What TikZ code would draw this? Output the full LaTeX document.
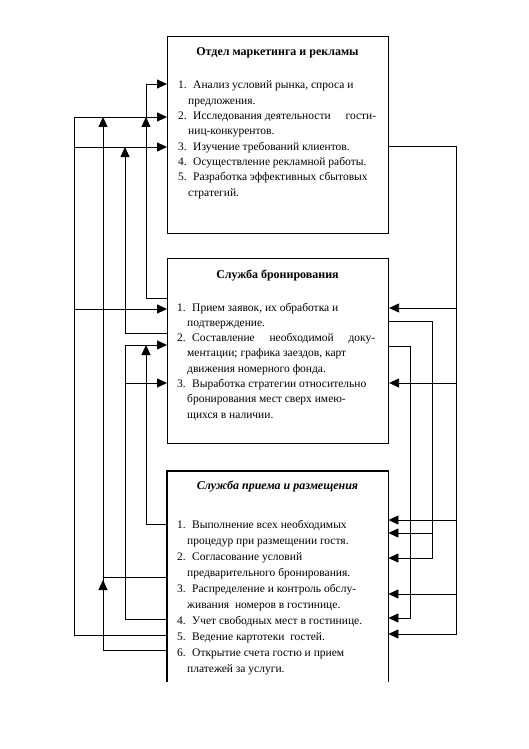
\documentclass[tikz,border=0pt]{standalone}
\usepackage{fontspec}
\setmainfont{Liberation Serif}
\usetikzlibrary{arrows.meta}
\newcommand\itm[2]{\makebox[15pt][l]{#1}#2}
\newcommand\cnt[1]{\hspace*{10pt}#1}
\begin{document}
\begin{tikzpicture}[x=1pt,y=-1pt,
  box/.style={draw, line width=1.1pt, inner sep=0pt, anchor=north west},
  ln/.style={line width=0.8pt},
  arr/.style={ln, -{Triangle[length=10pt,width=9pt]}},
  txt/.style={anchor=base west, inner sep=0pt},
  ttl/.style={anchor=base, inner sep=0pt, font=\fontsize{12}{14}\selectfont\bfseries}]
\useasboundingbox[fill=white] (0,0) rectangle (528,749);

% boxes
\node[box, minimum width=221pt, minimum height=197pt] (b1) at (167,36) {};
\node[box, minimum width=221pt, minimum height=185pt] (b2) at (167,258) {};
\node[inner sep=0pt, anchor=north west, minimum width=221pt, minimum height=211pt] (b3) at (167,471) {};
\draw[line width=1.1pt] (b3.south west) -- (b3.north west) -- (b3.north east) -- (b3.south east);

% titles
\node[ttl] (t1) at (277.5,56) {Отдел маркетинга и рекламы};
\node[ttl] (t2) at (277.5,278) {Служба бронирования};
\node[ttl, font=\fontsize{12}{14}\selectfont\bfseries\itshape] (t3) at (277.5,489) {Служба приема и размещения};

% texts
\node[txt] (x1) at (178,89) {\parbox[t]{215pt}{\fontsize{11.5}{15.3}\selectfont\raggedright
\itm{1.}{Анализ условий рынка, спроса и}\\
\cnt{предложения.}\\
\leavevmode\hbox to 198pt{\makebox[15pt][l]{2.}Исследования деятельности\hfill гости-}\\
\cnt{ниц-конкурентов.}\\
\itm{3.}{Изучение требований клиентов.}\\
\itm{4.}{Осуществление рекламной работы.}\\
\itm{5.}{Разработка эффективных сбытовых}\\
\cnt{стратегий.}}};

\node[txt] (x2) at (177,311) {\parbox[t]{215pt}{\fontsize{11.5}{15.3}\selectfont\raggedright
\itm{1.}{Прием заявок, их обработка и}\\
\cnt{подтверждение.}\\
\leavevmode\hbox to 198pt{\makebox[15pt][l]{2.}Составление\hfill необходимой\hfill доку-}\\
\cnt{ментации; графика заездов, карт}\\
\cnt{движения номерного фонда.}\\
\itm{3.}{Выработка стратегии относительно}\\
\cnt{бронирования мест сверх имею-}\\
\cnt{щихся в наличии.}}};

\node[txt] (x3) at (177,528) {\parbox[t]{215pt}{\fontsize{11.5}{16}\selectfont\raggedright
\itm{1.}{Выполнение всех необходимых}\\
\cnt{процедур при размещении гостя.}\\
\itm{2.}{Согласование условий}\\
\cnt{предварительного бронирования.}\\
\itm{3.}{Распределение и контроль обслу-}\\
\cnt{живания\ \ номеров в гостинице.}\\
\itm{4.}{Учет свободных мест в гостинице.}\\
\itm{5.}{Ведение картотеки\ \ гостей.}\\
\itm{6.}{Открытие счета гостю и прием}\\
\cnt{платежей за услуги.}}};

% left connectors
\draw[arr] (b3.west |- 0,635) -| (74,117) -- (b1.west |- 0,117);
\draw[arr] (74,147) -- (b1.west |- 0,147);
\draw[arr] (74,309) -- (b2.west |- 0,309);

\draw[arr] (b3.west |- 0,650) -| (103,117);
\draw[ln] (b3.west |- 0,577) -- (103,577);
\draw[arr] (103,596) -- (103,580);

\draw[arr] (b2.west |- 0,333) -| (125,147);

\draw[arr] (b3.west |- 0,619) -| (125,345) -- (b2.west |- 0,345);
\draw[arr] (125,383) -- (b2.west |- 0,383);

\draw[arr] (b2.west |- 0,298) -| (146,84) -- (b1.west |- 0,84);
\draw[arr] (146,135) -- (146,117);

\draw[arr] (b3.west |- 0,524) -| (146,345);

% right connectors
\draw[arr] (b1.east |- 0,146) -| (456,634) -- (b3.east |- 0,634);
\draw[arr] (456,308) -- (b2.east |- 0,308);
\draw[arr] (456,383) -- (b2.east |- 0,383);
\draw[arr] (456,520) -- (b3.east |- 0,520);
\draw[arr] (456,594) -- (b3.east |- 0,594);

\draw[arr] (b2.east |- 0,321) -| (432,558) -- (b3.east |- 0,558);
\draw[arr] (432,533) -- (b3.east |- 0,533);

\draw[arr] (b2.east |- 0,346) -| (410,618) -- (b3.east |- 0,618);
\end{tikzpicture}
\end{document}
